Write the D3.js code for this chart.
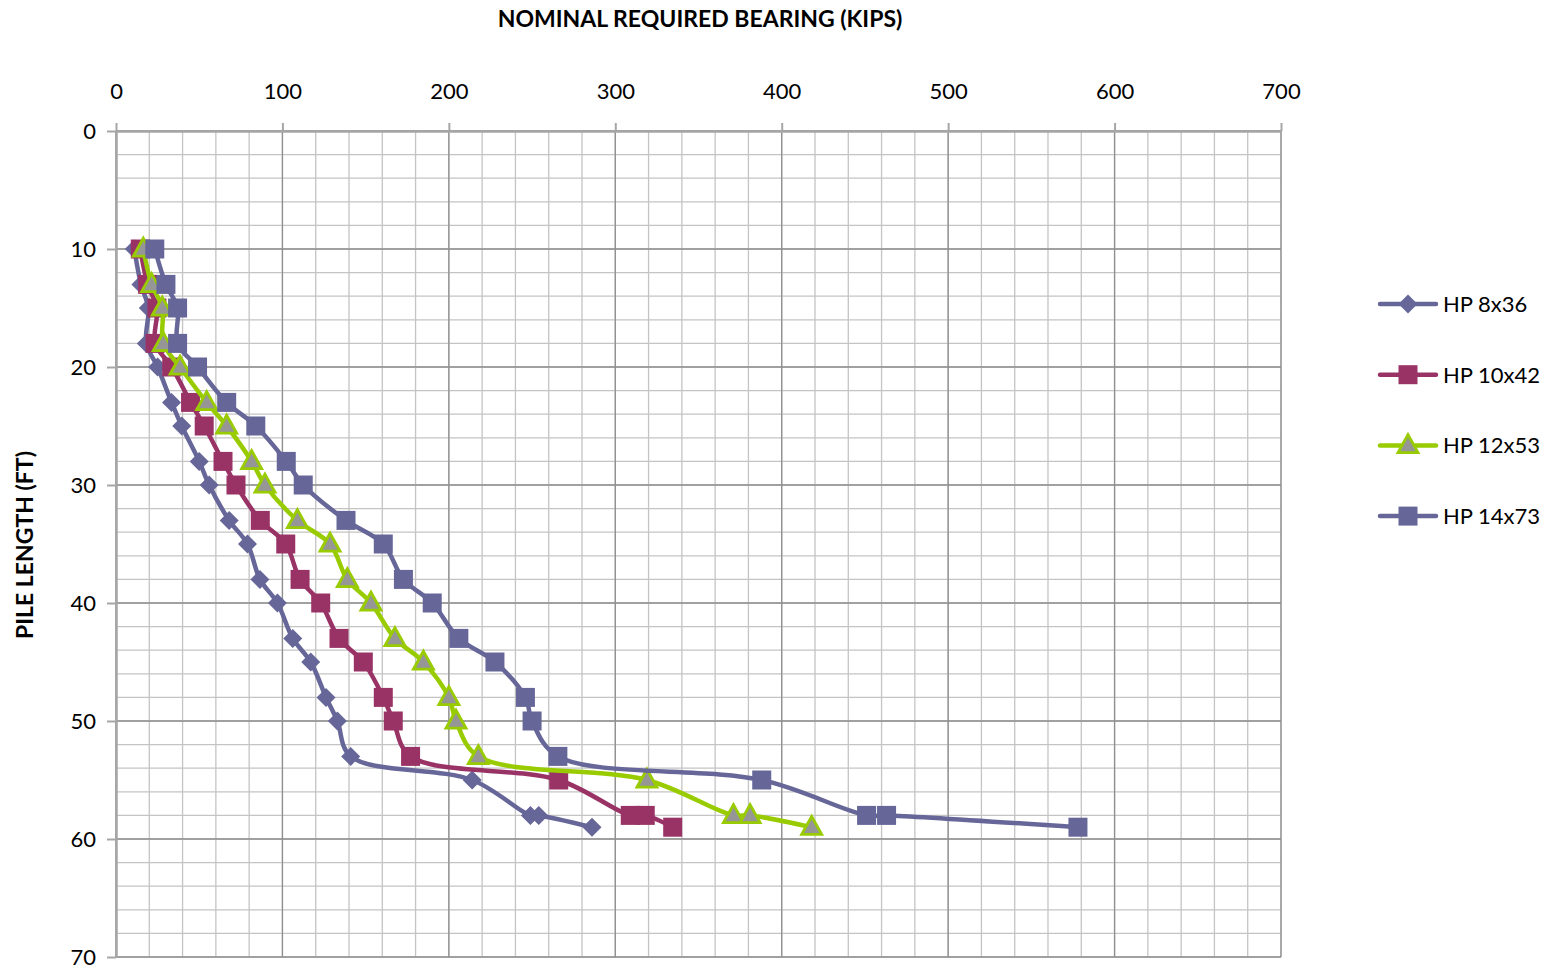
<!DOCTYPE html>
<html>
<head>
<meta charset="utf-8">
<script src="https://cdn.jsdelivr.net/npm/d3@7"></script>
<style>
  body { margin: 0; background: #fff; }
  svg { display: block; }
  text { font-family: Lato, "Open Sans", sans-serif; fill: #000; }
</style>
</head>
<body>
<svg id="chart" width="1558" height="970"></svg>
<script>
// Pile length (ft) at each computed point
const pileLength = [10, 13, 15, 18, 20, 23, 25, 28, 30, 33, 35, 38, 40, 43, 45, 48, 50, 53, 55, 58, 58, 59];

// Nominal required bearing (kips) per section
const hp8x36  = [11, 15, 19.4, 18.2, 25, 33.4, 39.5, 50, 56, 68, 79, 86.5, 97, 106.2, 117, 126.2, 133, 141, 214, 249, 254, 286];
const hp10x42 = [14.6, 19, 24.6, 23.5, 33.5, 44.8, 53, 64.3, 72.1, 86.7, 102, 110.6, 123, 134, 148.6, 160.6, 166.6, 177, 266, 309, 318, 334.5];
const hp12x53 = [16.4, 21.4, 27.8, 28.4, 38.5, 54.5, 66.5, 81.5, 89.5, 109, 128.6, 139, 153.2, 167.6, 184.7, 200, 204.3, 217.7, 319, 371, 381, 418];
const hp14x73 = [23.3, 30, 37, 37, 49, 66.5, 84, 102.3, 112.5, 138.2, 160.6, 172.7, 190, 206, 227.7, 246, 250, 265.5, 388, 451, 463, 578];

const seriesNames   = ["HP 8x36", "HP 10x42", "HP 12x53", "HP 14x73"];
const seriesValues  = [hp8x36, hp10x42, hp12x53, hp14x73];
const seriesColors  = ["#666699", "#993366", "#99CC00", "#666699"];
const seriesMarkers = ["diamond", "square", "triangle", "square"];

const xTicks = [0, 100, 200, 300, 400, 500, 600, 700];
const yTicks = [0, 10, 20, 30, 40, 50, 60, 70];

const svg = d3.select("#chart");
const x = d3.scaleLinear().domain([0, 700]).range([116, 1281]);
const y = d3.scaleLinear().domain([0, 70]).range([131, 957]);

// Minor and major gridlines
const grid = svg.append("g");
grid.selectAll(".vminor").data(d3.range(0, 701, 20)).join("line")
  .attr("x1", d => x(d)).attr("x2", d => x(d)).attr("y1", y(0)).attr("y2", y(70))
  .attr("stroke", "#c4c4c4").attr("stroke-width", 1.3);
grid.selectAll(".hminor").data(d3.range(0, 71, 2)).join("line")
  .attr("y1", d => y(d)).attr("y2", d => y(d)).attr("x1", x(0)).attr("x2", x(700))
  .attr("stroke", "#c4c4c4").attr("stroke-width", 1.3);
grid.selectAll(".vmajor").data(xTicks).join("line")
  .attr("x1", d => x(d)).attr("x2", d => x(d)).attr("y1", y(0)).attr("y2", y(70))
  .attr("stroke", "#8f8f8f").attr("stroke-width", 1.3);
grid.selectAll(".hmajor").data(yTicks).join("line")
  .attr("y1", d => y(d)).attr("y2", d => y(d)).attr("x1", x(0)).attr("x2", x(700))
  .attr("stroke", "#8f8f8f").attr("stroke-width", 1.3);

// Axes
const topAxis = svg.append("g").attr("transform", `translate(0,${y(0)})`)
  .call(d3.axisTop(x).tickValues(xTicks).tickSize(8).tickPadding(24).tickSizeOuter(0));
const leftAxis = svg.append("g").attr("transform", `translate(${x(0)},0)`)
  .call(d3.axisLeft(y).tickValues(yTicks).tickSize(9).tickPadding(11).tickSizeOuter(0));
[topAxis, leftAxis].forEach(a => {
  a.select(".domain").attr("stroke", "#a6a6a6").attr("stroke-width", 2.5);
  a.selectAll(".tick line").attr("stroke", "#a6a6a6").attr("stroke-width", 2);
  a.selectAll(".tick text").style("font-size", "22px").style("font-family", "Lato, 'Open Sans', sans-serif").attr("fill", "#000");
});

// Axis titles
svg.append("text").attr("x", 700).attr("y", 27).attr("text-anchor", "middle")
  .style("font-size", "23px").style("font-weight", "bold").text("NOMINAL REQUIRED BEARING (KIPS)");
svg.append("text").attr("transform", "translate(33,545) rotate(-90)").attr("text-anchor", "middle")
  .style("font-size", "23px").style("font-weight", "bold").text("PILE LENGTH (FT)");

// Marker shapes
function drawMarker(g, type, color, cx, cy) {
  if (type === "diamond") {
    const r = 9.5;
    g.append("path").attr("d", `M${cx},${cy - r}L${cx + r},${cy}L${cx},${cy + r}L${cx - r},${cy}Z`)
      .attr("fill", color);
  } else if (type === "square") {
    const s = 19;
    g.append("rect").attr("x", cx - s / 2).attr("y", cy - s / 2).attr("width", s).attr("height", s)
      .attr("fill", color);
  } else {
    const w = 10, h = 18;
    g.append("path").attr("d", `M${cx},${cy - h * 0.6}L${cx + w},${cy + h * 0.4}L${cx - w},${cy + h * 0.4}Z`)
      .attr("fill", "#969696").attr("stroke", color).attr("stroke-width", 2.8).attr("stroke-linejoin", "miter");
  }
}

const line = d3.line().x(d => x(d[0])).y(d => y(d[1])).curve(d3.curveCatmullRom.alpha(0.5));

// Series: smoothed line then markers
seriesValues.forEach((vals, i) => {
  const g = svg.append("g");
  const pts = vals.map((v, k) => [v, pileLength[k]]);
  g.append("path").datum(pts).attr("d", line).attr("fill", "none")
    .attr("stroke", seriesColors[i]).attr("stroke-width", 4.5).attr("stroke-linecap", "round").attr("stroke-linejoin", "round");
  pts.forEach(p => drawMarker(g, seriesMarkers[i], seriesColors[i], x(p[0]), y(p[1])));
});

// Legend
const legend = svg.append("g");
seriesNames.forEach((name, i) => {
  const ly = 304 + i * 70.7;
  legend.append("line").attr("x1", 1380).attr("x2", 1436).attr("y1", ly).attr("y2", ly)
    .attr("stroke", seriesColors[i]).attr("stroke-width", 4.5).attr("stroke-linecap", "round");
  drawMarker(legend, seriesMarkers[i], seriesColors[i], 1408, ly);
  legend.append("text").attr("x", 1443).attr("y", ly + 8).style("font-size", "22px").text(name);
});
</script>
</body>
</html>
